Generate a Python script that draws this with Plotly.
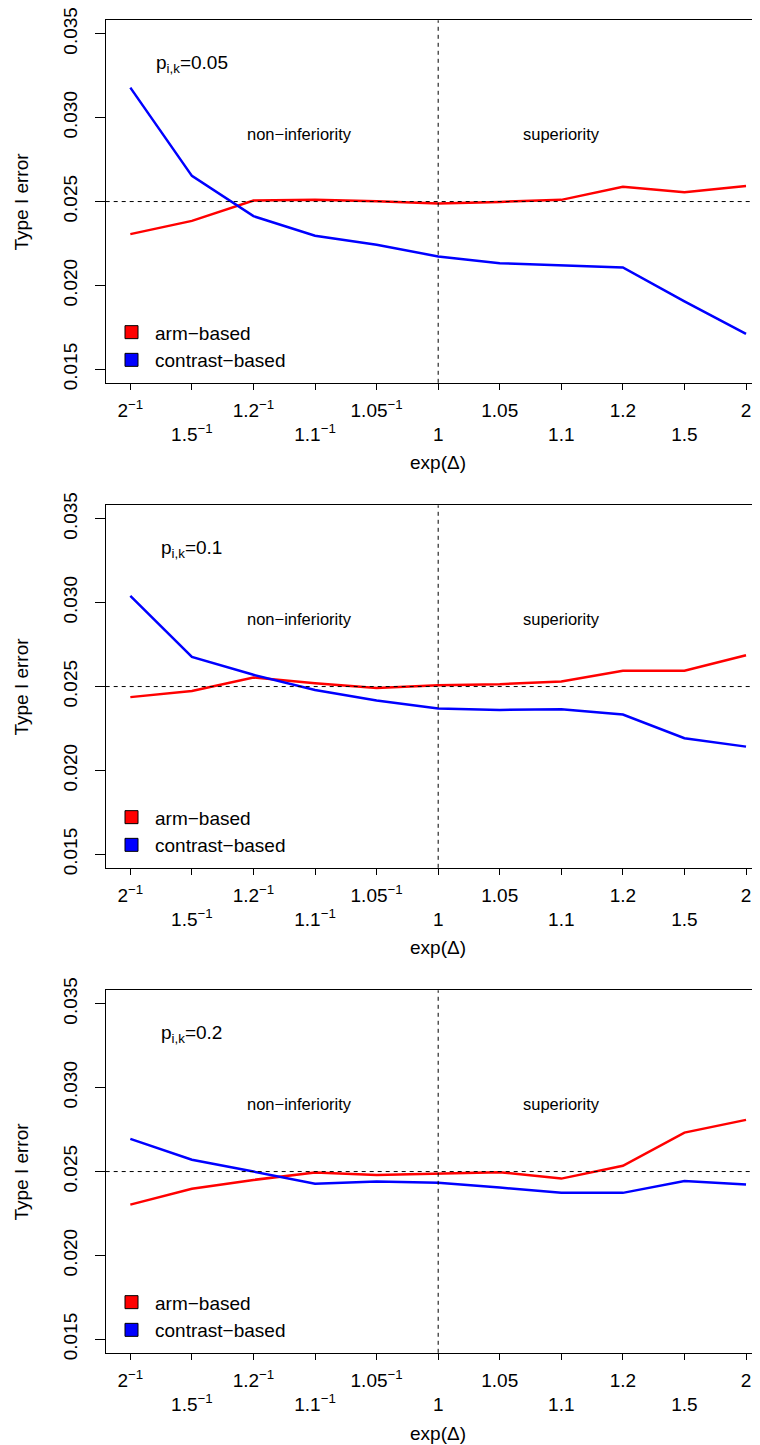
import plotly.graph_objects as go

# ---------------- data ----------------
x_pos = list(range(11))
x_ticktext = ["2<sup>−1</sup>", "1.5<sup>−1</sup>", "1.2<sup>−1</sup>", "1.1<sup>−1</sup>",
              "1.05<sup>−1</sup>", "1", "1.05", "1.1", "1.2", "1.5", "2"]
p_labels = ["0.05", "0.1", "0.2"]

arm_p005 = [0.02306, 0.02385, 0.02506, 0.02510, 0.02502, 0.02488, 0.02498, 0.02510, 0.02588, 0.02556, 0.02592]
con_p005 = [0.03179, 0.02653, 0.02413, 0.02296, 0.02242, 0.02173, 0.02133, 0.02121, 0.02107, 0.01905, 0.01711]

arm_p01 = [0.02437, 0.02474, 0.02554, 0.02520, 0.02492, 0.02508, 0.02514, 0.02530, 0.02594, 0.02594, 0.02687]
con_p01 = [0.03040, 0.02677, 0.02570, 0.02480, 0.02417, 0.02369, 0.02361, 0.02365, 0.02333, 0.02192, 0.02142]

arm_p02 = [0.02303, 0.02397, 0.02450, 0.02494, 0.02480, 0.02490, 0.02496, 0.02458, 0.02534, 0.02732, 0.02808]
con_p02 = [0.02695, 0.02570, 0.02500, 0.02428, 0.02440, 0.02434, 0.02405, 0.02373, 0.02373, 0.02443, 0.02423]

arm_series = [arm_p005, arm_p01, arm_p02]
con_series = [con_p005, con_p01, con_p02]
y_ticks = [0.015, 0.020, 0.025, 0.030, 0.035]
y_ticktext = ["0.015", "0.020", "0.025", "0.030", "0.035"]

# ---------------- layout helpers ----------------
# page body has an 8px margin, so the figure is placed 8px right/down
W, H = 752, 1437
FONT = "Liberation Sans, Arial, Helvetica, sans-serif"
panel_tops = [12.3, 497.3, 982.3]
panel_h = 362.5
x_left_px = 97.7
x_range = [-0.4, 10.227]
y_range = [0.0142, 0.0358]

fig = go.Figure()
layout = dict(
    width=W, height=H, autosize=False,
    margin=dict(l=0, r=0, t=0, b=0, autoexpand=False),
    paper_bgcolor="white", plot_bgcolor="white",
    font=dict(family=FONT, color="black", size=19),
    showlegend=True,
)
annotations = []
shapes = []

for i in range(3):
    top = panel_tops[i]
    y0 = (H - top - panel_h) / H
    y1 = (H - top) / H
    sfx = "" if i == 0 else str(i + 1)
    xa, ya = "x" + sfx, "y" + sfx
    lg = "legend" + sfx

    fig.add_trace(go.Scatter(x=x_pos, y=arm_series[i], mode="lines",
                             line=dict(color="#ff0000", width=2.5),
                             xaxis=xa, yaxis=ya, showlegend=False))
    fig.add_trace(go.Scatter(x=x_pos, y=con_series[i], mode="lines",
                             line=dict(color="#0000ff", width=2.5),
                             xaxis=xa, yaxis=ya, showlegend=False))
    # legend-only entries (filled squares)
    fig.add_trace(go.Scatter(x=[None], y=[None], mode="markers", name="arm−based",
                             marker=dict(symbol="square", size=13, color="#ff0000",
                                         line=dict(color="black", width=1)),
                             xaxis=xa, yaxis=ya, legend=lg))
    fig.add_trace(go.Scatter(x=[None], y=[None], mode="markers", name="contrast−based",
                             marker=dict(symbol="square", size=13, color="#0000ff",
                                         line=dict(color="black", width=1)),
                             xaxis=xa, yaxis=ya, legend=lg))

    layout["xaxis" + sfx] = dict(
        domain=[x_left_px / W, 1.0], range=x_range, anchor=ya,
        tickmode="array", tickvals=x_pos,
        ticktext=[t if k % 2 == 0 else "<br>" + t for k, t in enumerate(x_ticktext)],
        ticks="outside", ticklen=6, tickwidth=1, tickcolor="black",
        showline=True, linecolor="black", linewidth=1, mirror=True,
        showgrid=False, zeroline=False, automargin=False,
        tickfont=dict(size=19, family=FONT), tickangle=0,
        ticklabelstandoff=4, ticklabeloverflow="allow",
    )
    layout["yaxis" + sfx] = dict(
        domain=[y0, y1], range=y_range, anchor=xa,
        tickmode="array", tickvals=y_ticks, ticktext=y_ticktext,
        ticks="outside", ticklen=10, tickwidth=1, tickcolor="black",
        showline=True, linecolor="black", linewidth=1, mirror=False,
        showgrid=False, zeroline=False, automargin=False,
        tickfont=dict(size=19, family=FONT), tickangle=-90,
        ticklabelstandoff=10, ticklabeloverflow="allow",
    )
    layout[lg] = dict(
        x=100 / W, xanchor="left",
        y=(H - (top + 293)) / H, yanchor="top",
        bgcolor="rgba(0,0,0,0)", borderwidth=0,
        font=dict(size=19, family=FONT), tracegroupgap=0,
        itemwidth=37,
    )

    # reference lines
    shapes.append(dict(type="line", xref=xa, yref=ya + " domain", x0=5, x1=5, y0=0, y1=1,
                       line=dict(color="black", width=1, dash="4px,4px")))
    shapes.append(dict(type="line", xref=xa + " domain", yref=ya, x0=0, x1=1, y0=0.025, y1=0.025,
                       line=dict(color="black", width=1, dash="4px,4px")))

    # texts
    annotations.append(dict(xref=xa, yref=ya, x=1, y=0.0332, showarrow=False,
                            text="p<sub>i,k</sub>=" + p_labels[i],
                            font=dict(size=19, family=FONT)))
    annotations.append(dict(xref=xa, yref=ya, x=2.75, y=0.029, showarrow=False,
                            text="non−inferiority", font=dict(size=16.5, family=FONT)))
    annotations.append(dict(xref=xa, yref=ya, x=7, y=0.029, showarrow=False,
                            text="superiority", font=dict(size=16.5, family=FONT)))
    annotations.append(dict(xref=xa, yref="paper", x=5, y=(H - (top + 442.7)) / H,
                            yanchor="middle", showarrow=False, text="exp(Δ)",
                            font=dict(size=19, family=FONT)))
    annotations.append(dict(xref="paper", yref="paper", x=14 / W, y=(y0 + y1) / 2,
                            xanchor="center", yanchor="middle", textangle=-90,
                            showarrow=False, text="Type I error",
                            font=dict(size=19, family=FONT)))

layout["annotations"] = annotations
layout["shapes"] = shapes
fig.update_layout(**layout)
fig.write_html("out.html")
